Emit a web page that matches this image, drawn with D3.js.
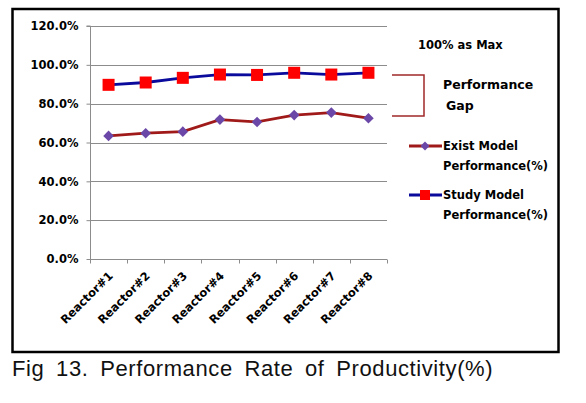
<!DOCTYPE html>
<html><head><meta charset="utf-8">
<script src="https://cdn.jsdelivr.net/npm/d3@7"></script>
<style>body{margin:0;background:#fff;}svg{display:block;}</style>
</head><body>
<svg id="c" width="586" height="403"></svg>
<script>
const categories = ["Reactor#1","Reactor#2","Reactor#3","Reactor#4","Reactor#5","Reactor#6","Reactor#7","Reactor#8"];
const existValues = [63.4, 64.8, 65.6, 71.8, 70.6, 74.1, 75.4, 72.5];
const studyValues = [89.7, 90.9, 93.3, 95.0, 94.8, 95.9, 95.0, 95.9];
const yTicks = [0, 20, 40, 60, 80, 100, 120];
const legendLabels = [["Exist Model","Performance(%)"],["Study Model","Performance(%)"]];
const caption = "Fig 13. Performance Rate of Productivity(%)";

const svg = d3.select("#c");
const font = "Tahoma, 'DejaVu Sans', sans-serif";

// outer frame
svg.append("rect").attr("x",12.5).attr("y",9).attr("width",546).attr("height",343)
  .attr("fill","#fff").attr("stroke","#000").attr("stroke-width",2.5);

const x = d3.scaleBand().domain(categories).range([90,387]);
const y = d3.scaleLinear().domain([0,120]).range([259,26]);

// gridlines
svg.append("g").selectAll("line").data(yTicks.filter(d=>d>0)).join("line")
  .attr("x1",90).attr("x2",387).attr("y1",d=>Math.round(y(d))+0.5).attr("y2",d=>Math.round(y(d))+0.5)
  .attr("stroke","#8c8c8c").attr("stroke-width",1);

// y axis
const ya = svg.append("g").attr("transform","translate(90.5,0)")
  .call(d3.axisLeft(y).tickValues(yTicks).tickSize(4).tickPadding(8).tickFormat(d=>d.toFixed(1)+"%"));
ya.select(".domain").attr("stroke","#8c8c8c").attr("d","M-4,"+y(120)+"H0V"+y(0));
ya.selectAll(".tick line").attr("stroke","#8c8c8c");
ya.selectAll(".tick text").attr("font-family",font).attr("font-weight","bold").attr("font-size",11.5).attr("fill","#000");

// x axis
const xa = svg.append("g").attr("transform","translate(0,"+(Math.round(y(0))+0.5)+")");
xa.append("line").attr("x1",90).attr("x2",387).attr("stroke","#8c8c8c");
xa.selectAll("line.t").data(d3.range(categories.length+1)).join("line").attr("class","t")
  .attr("x1",i=>Math.round(90+i*x.step())+0.5).attr("x2",i=>Math.round(90+i*x.step())+0.5)
  .attr("y1",0).attr("y2",4).attr("stroke","#8c8c8c");
xa.selectAll("text").data(categories).join("text")
  .attr("transform",d=>"translate("+(x(d)+x.bandwidth()/2+5)+",17) rotate(-45)")
  .attr("text-anchor","end").attr("font-family",font).attr("font-weight","bold").attr("font-size",11.5)
  .text(d=>d);

const cx = d => x(d)+x.bandwidth()/2;
const line = vals => d3.line().x((d,i)=>cx(categories[i])).y(d=>y(d))(vals);

// exist series
svg.append("path").attr("d",line(existValues)).attr("fill","none").attr("stroke","#a01a1a").attr("stroke-width",2.8);
svg.append("g").selectAll("path").data(existValues).join("path")
  .attr("d",d3.symbol(d3.symbolSquare,56))
  .attr("transform",(d,i)=>"translate("+cx(categories[i])+","+y(d)+") rotate(45)")
  .attr("fill","#6b48a8");

// study series
svg.append("path").attr("d",line(studyValues)).attr("fill","none").attr("stroke","#0a0a9c").attr("stroke-width",2.8);
svg.append("g").selectAll("rect").data(studyValues).join("rect")
  .attr("x",(d,i)=>cx(categories[i])-6).attr("y",d=>y(d)-6).attr("width",12).attr("height",12)
  .attr("fill","#ff0000");

// annotations
svg.append("text").attr("x",418).attr("y",49).attr("font-family",font).attr("font-weight","bold").attr("font-size",11.5).text("100% as Max");
svg.append("path").attr("d","M392,75H424V116H392").attr("fill","none").attr("stroke","#a0282a").attr("stroke-width",1.5);
svg.append("text").attr("x",443).attr("y",89).attr("font-family",font).attr("font-weight","bold").attr("font-size",12.5).text("Performance");
svg.append("text").attr("x",446).attr("y",110).attr("font-family",font).attr("font-weight","bold").attr("font-size",12.5).text("Gap");

// legend
const lg = svg.append("g");
const legY = [146, 195];
lg.append("line").attr("x1",409).attr("x2",442).attr("y1",legY[0]).attr("y2",legY[0]).attr("stroke","#a01a1a").attr("stroke-width",2.8);
lg.append("path").attr("d",d3.symbol(d3.symbolSquare,40)).attr("transform","translate(425,"+legY[0]+") rotate(45)").attr("fill","#6b48a8");
lg.append("line").attr("x1",409).attr("x2",442).attr("y1",legY[1]).attr("y2",legY[1]).attr("stroke","#0a0a9c").attr("stroke-width",2.8);
lg.append("rect").attr("x",420).attr("y",legY[1]-5).attr("width",10).attr("height",10).attr("fill","#ff0000");
legendLabels.forEach((lab,i)=>{
  const t = lg.append("text").attr("font-family",font).attr("font-weight","bold").attr("font-size",11.5);
  t.append("tspan").attr("x",443).attr("y",legY[i]+4).text(lab[0]);
  t.append("tspan").attr("x",443).attr("y",legY[i]+24).text(lab[1]);
});

// caption
svg.append("text").attr("x",12).attr("y",376).attr("font-family","'Liberation Sans', Arial, sans-serif")
  .attr("font-size",22).attr("letter-spacing",0.6).attr("word-spacing",5).attr("fill","#111").text(caption);
</script>
</body></html>
